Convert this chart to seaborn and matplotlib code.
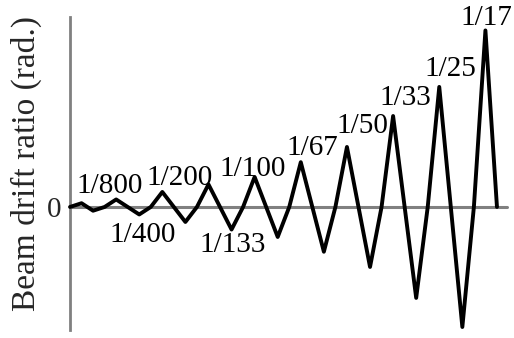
import matplotlib
matplotlib.use("Agg")
import matplotlib.pyplot as plt
import seaborn as sns
import pandas as pd

# Loading protocol: load step and imposed beam drift ratio at each reversal
steps = [0, 1, 2, 3,
         4, 6, 7,
         8, 10, 11,
         12, 14, 15,
         16, 18, 19,
         20, 22, 23,
         24, 26, 27,
         28, 30, 31,
         32, 34, 35,
         36, 37]
drift = [0, 1/800, -1/800, 0,
         1/400, -1/400, 0,
         1/200, -1/200, 0,
         1/133, -1/133, 0,
         1/100, -1/100, 0,
         1/67, -1/67, 0,
         1/50, -1/50, 0,
         1/33, -1/33, 0,
         1/25, -1/25, 0,
         1/17, 0]

# Amplitude labels: text, step of the annotated reversal, its drift value
label_text = ["1/800", "1/400", "1/200", "1/133", "1/100",
              "1/67", "1/50", "1/33", "1/25", "1/17"]
label_step = [1, 6, 8, 14, 16, 20, 24, 28, 32, 36]
label_value = [1/800, -1/400, 1/200, -1/133, 1/100,
               1/67, 1/50, 1/33, 1/25, 1/17]
# label baseline offsets from the reversal point, in pixels
label_dx = [28, 3, 17, 1, -2, 12, 15, 12, 11, 1]
label_dy = [10, -28, 7, -22, 1, 7, 14, 11, 11, 5]

sns.set_theme(style="white")
plt.rcParams["font.family"] = ["Liberation Serif", "DejaVu Serif"]

df = pd.DataFrame({"step": steps, "drift": drift})

fig = plt.figure(figsize=(5.14, 3.38), dpi=100)
ax = fig.add_axes([70/514, 1 - 330/338, 437/514, 313/338])

gray = "#808080"
ax.axhline(0, color=gray, lw=2.2, zorder=1)

sns.lineplot(data=df, x="step", y="drift", ax=ax, color="black",
             lw=2.8, estimator=None, sort=False, zorder=3)
for ln in ax.get_lines():
    ln.set_clip_on(False)

for t, s, v, dx, dy in zip(label_text, label_step, label_value,
                           label_dx, label_dy):
    ax.annotate(t, xy=(s, v), xytext=(dx, dy), textcoords="offset pixels",
                ha="center", va="baseline", fontsize=21, color="black",
                annotation_clip=False)

ax.set_xlim(0, 37.87)
ax.set_ylim(-0.041, 0.0633)

ax.set_xticks([])
ax.set_yticks([0])
ax.set_yticklabels(["0"], fontsize=21)
ax.tick_params(axis="y", length=0, pad=6)
ax.set_xlabel("")
ax.set_ylabel("Beam drift ratio (rad.)", fontsize=24, va="center")
ax.yaxis.set_label_coords(-0.1007, 0.532)

for side in ["top", "right", "bottom"]:
    ax.spines[side].set_visible(False)
ax.spines["left"].set_color(gray)
ax.spines["left"].set_linewidth(2.0)

fig.savefig("out.png", dpi=100)
